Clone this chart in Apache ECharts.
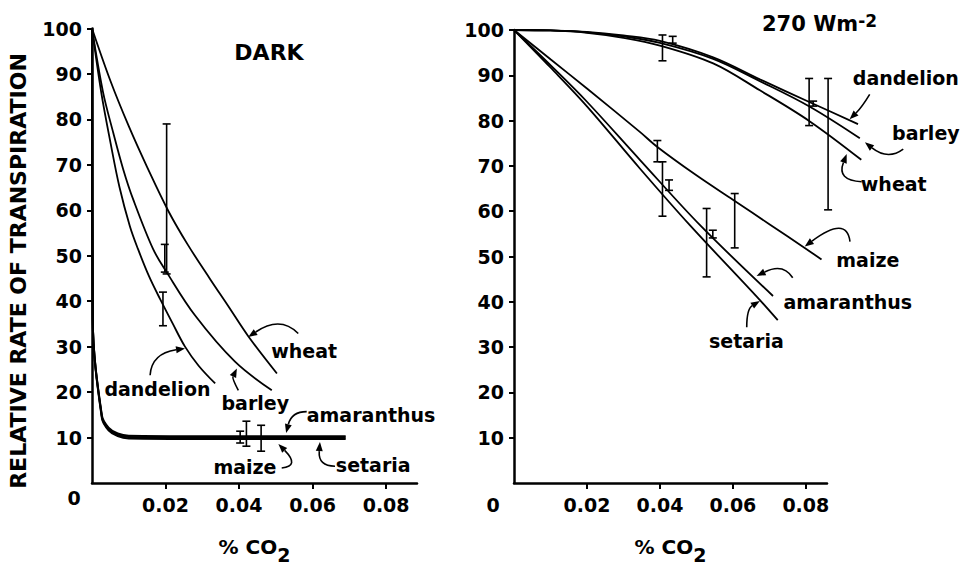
<!DOCTYPE html>
<html><head><meta charset="utf-8">
<script src="https://cdn.jsdelivr.net/npm/echarts@6/dist/echarts.min.js"></script>
<style>html,body{margin:0;padding:0;background:#fff}#c{width:969px;height:569px}</style>
</head><body><div id="c"></div>
<script>
// ---------- data (x = % CO2, y = relative rate of transpiration) ----------
const xTickValues = [0.02, 0.04, 0.06, 0.08];
const yTickValues = [10, 20, 30, 40, 50, 60, 70, 80, 90, 100];

// DARK panel
const darkDandelion = [[0,100],[0.0025,86],[0.005,75],[0.0075,65],[0.0103,56.5],[0.0125,51.5],[0.0155,45.5],[0.0185,40.5],[0.022,35],[0.0253,30],[0.029,25.8],[0.0335,21.9]];
const darkBarley    = [[0,100],[0.003,86],[0.0058,77],[0.0085,69],[0.0112,62.4],[0.0166,51.5],[0.0203,46.4],[0.028,36.9],[0.0389,26.7],[0.0489,20.4]];
const darkWheat     = [[0,100],[0.005,88.5],[0.01,78.5],[0.015,69.5],[0.0208,59.8],[0.026,52.5],[0.0321,44.9],[0.037,39],[0.0425,32.3],[0.0503,24.1]];
const darkAmaranthus= [[0,100],[0.0002,36],[0.0027,14.8],[0.0045,12.2],[0.007,10.9],[0.01,10.4],[0.03,10.3],[0.069,10.3]];
const darkMaize     = [[0,100],[0.0002,36],[0.0027,14.5],[0.0045,11.9],[0.007,10.6],[0.01,10.1],[0.03,10],[0.069,10]];
const darkSetaria   = [[0,100],[0.0002,36],[0.0027,14.2],[0.0045,11.6],[0.007,10.3],[0.01,9.8],[0.03,9.7],[0.069,9.7]];
const darkErrors    = [[0.0203,46,79],[0.0198,46.4,52.5],[0.0193,34.6,42],[0.0403,8.8,11.4],[0.042,8.1,13.6],[0.046,7,12.7]];

// 270 W m-2 panel
const lightDandelion = [[0,100],[0.01,99.9],[0.02,99.6],[0.03,98.8],[0.04,97.6],[0.0546,94],[0.0674,89.2],[0.0811,84.2],[0.0943,79.4]];
const lightBarley    = [[0,100],[0.01,99.9],[0.02,99.5],[0.03,98.6],[0.04,97.2],[0.0546,93.7],[0.0674,88.8],[0.0811,83.2],[0.0948,76.3]];
const lightWheat     = [[0,100],[0.01,99.9],[0.02,99.4],[0.03,98.3],[0.04,96.6],[0.0546,92.7],[0.0674,86.8],[0.0811,80],[0.0952,71.6]];
const lightMaize     = [[0,100],[0.01,93.6],[0.02,87.2],[0.0345,77.7],[0.0393,74.4],[0.05,68.2],[0.0601,62.8],[0.07,57.5],[0.0797,52.3],[0.0843,49.8]];
const lightAmaranthus= [[0,100],[0.01,92.3],[0.02,84.3],[0.0345,71.6],[0.051,57.3],[0.071,41.8]];
const lightSetaria   = [[0,100],[0.01,91.8],[0.02,83.3],[0.0345,69.7],[0.0482,57.3],[0.0666,41.6],[0.0723,36.5]];
const lightErrors    = [[0.0407,93.2,98.9],[0.0435,97.1,98.6],[0.0809,78.9,89.3],[0.082,83.2,84.3],[0.0861,60.3,89.3],
                        [0.0393,70.9,75.6],[0.0407,58.9,70.9],[0.0425,64.6,66.9],[0.0528,45.5,60.6],[0.0545,54.1,55.8],[0.0605,51.9,63.9]];

// ---------- annotations (label + curved arrow, in data units) ----------
const darkNotes = [
  {name:'wheat',      at:[0.0577,29.1], from:[0.0561,32.9], via:[0.0512,36.9], to:[0.0425,32.1]},
  {name:'barley',     at:[0.0444,17.5], from:[0.0398,20.4], via:[0.0381,23.0], to:[0.0394,25.2]},
  {name:'dandelion',  at:[0.0178,20.6], from:[0.0158,23.7], via:[0.0162,28.5], to:[0.0253,29.6]},
  {name:'amaranthus', at:[0.0759,15.0], from:[0.0584,15.7], via:[0.0543,15.7], to:[0.0528,11.0]},
  {name:'maize',      at:[0.0416,3.6],  from:[0.0516,3.3],  via:[0.0566,3.7],  to:[0.0507,8.6]},
  {name:'setaria',    at:[0.0765,4.05], from:[0.0661,3.7],  via:[0.0615,3.7],  to:[0.062,9.0]}
];
const lightNotes = [
  {name:'dandelion',  at:[0.1074,89.3], from:[0.0975,85.8], via:[0.0953,82.9], to:[0.092,80.3]},
  {name:'barley',     at:[0.1129,77.2], from:[0.1067,73.7], via:[0.1025,71.2], to:[0.0962,75.2]},
  {name:'wheat',      at:[0.1041,66.1], from:[0.0953,66.5], via:[0.0884,66.8], to:[0.0912,72.6]},
  {name:'maize',      at:[0.0970,49.2], from:[0.0921,53.3], via:[0.0912,59.1], to:[0.0797,52.2]},
  {name:'amaranthus', at:[0.0915,40.0], from:[0.0764,45.3], via:[0.0738,48.6], to:[0.0665,45.7]},
  {name:'setaria',    at:[0.0637,31.4], from:[0.0638,34.4], via:[0.0638,38.4], to:[0.0674,40.2]}
];

// ---------- chart ----------
const FONT = '"DejaVu Sans"';
const chart = echarts.init(document.getElementById('c'), null, {renderer:'svg', width:969, height:569});

const RIGHT_AXIS_MAX = 0.0858;   // drawn x axis of right panel
const RIGHT_PLOT_MAX = 0.1;      // same scale, wider, for curves that run past the axis end
const RIGHT_W = 313;

function xAxisCfg(gi, max) {
  return {
    gridIndex: gi, type:'value', min:0, max:max,
    axisLine:{show:true, onZero:false, lineStyle:{color:'#000', width:2.5}},
    axisTick:{show:true, length:6, lineStyle:{color:'#000', width:2}, customValues:xTickValues},
    axisLabel:{customValues:xTickValues, formatter:v => v.toFixed(2), margin:12, color:'#000',
               fontFamily:'DejaVu Sans', fontWeight:'bold', fontSize:19},
    splitLine:{show:false},
    name:'% CO{sub|2}', nameLocation:'middle', nameGap:54,
    nameTextStyle:{color:'#000', fontFamily:'DejaVu Sans', fontWeight:'bold', fontSize:20, lineHeight:20,
      verticalAlign:'top',
      rich:{sub:{fontFamily:'DejaVu Sans', fontWeight:'bold', fontSize:19, lineHeight:20, padding:[8,0,0,0], verticalAlign:'top'}}}
  };
}
function yAxisCfg(gi) {
  return {
    gridIndex: gi, type:'value', min:0, max:100, interval:10,
    axisLine:{show:true, onZero:false, lineStyle:{color:'#000', width:2.5}},
    axisTick:{show:true, length:5, lineStyle:{color:'#000', width:2}, customValues:yTickValues},
    axisLabel:{customValues:yTickValues, margin:10, color:'#000',
               fontFamily:'DejaVu Sans', fontWeight:'bold', fontSize:19},
    splitLine:{show:false}
  };
}
function curve(name, data, gi, w) {
  return {type:'line', name:name, xAxisIndex:gi, yAxisIndex:gi, data:data, smooth:0.35,
          showSymbol:false, symbol:'none', clip:false, silent:true, animation:false,
          lineStyle:{color:'#000', width:w || 1.8}, z:3};
}
function renderErr(params, api) {
  const x = api.value(0), lo = api.value(1), hi = api.value(2);
  const p1 = api.coord([x, lo]), p2 = api.coord([x, hi]);
  const w = 4, st = {stroke:'#000', lineWidth:1.6};
  return {type:'group', children:[
    {type:'line', shape:{x1:p1[0], y1:p1[1], x2:p2[0], y2:p2[1]}, style:st},
    {type:'line', shape:{x1:p1[0]-w, y1:p1[1], x2:p1[0]+w, y2:p1[1]}, style:st},
    {type:'line', shape:{x1:p2[0]-w, y1:p2[1], x2:p2[0]+w, y2:p2[1]}, style:st}
  ]};
}
function errSeries(data, gi) {
  return {type:'custom', xAxisIndex:gi, yAxisIndex:gi, data:data, renderItem:renderErr,
          encode:{x:0, y:[1,2]}, clip:false, silent:true, animation:false, z:4};
}
function noteSeries(list, gi) {
  return {type:'custom', xAxisIndex:gi, yAxisIndex:gi, data:list.map(a => a.at), encode:{x:0, y:1},
    clip:false, silent:true, animation:false, z:5,
    renderItem:function(params, api) {
      const a = list[params.dataIndex];
      const t = api.coord(a.at), s = api.coord(a.from), c = api.coord(a.via), e = api.coord(a.to);
      const dx = e[0]-c[0], dy = e[1]-c[1], L = Math.hypot(dx, dy) || 1, ux = dx/L, uy = dy/L;
      const hl = 9, hw = 3.5, bx = e[0]-ux*hl, by = e[1]-uy*hl;
      return {type:'group', children:[
        {type:'text', x:t[0], y:t[1], style:{text:a.name, fill:'#000', font:'bold 19px ' + FONT, align:'center', verticalAlign:'middle'}},
        {type:'bezierCurve', shape:{x1:s[0], y1:s[1], x2:bx, y2:by, cpx1:c[0], cpy1:c[1]}, style:{stroke:'#000', lineWidth:1.6, fill:null}},
        {type:'polygon', shape:{points:[[e[0],e[1]],[bx-uy*hw, by+ux*hw],[bx+uy*hw, by-ux*hw]]}, style:{fill:'#000'}}
      ]};
    }
  };
}

const hiddenX = {gridIndex:2, type:'value', min:0, max:RIGHT_PLOT_MAX, show:false, splitLine:{show:false}};
const hiddenY = {gridIndex:2, type:'value', min:0, max:100, show:false, splitLine:{show:false}};

chart.setOption({
  animation:false,
  backgroundColor:'#fff',
  grid:[
    {left:92, top:28.5, width:325, height:456.5},
    {left:514, top:30, width:RIGHT_W, height:457},
    {left:514, top:30, width:RIGHT_W * RIGHT_PLOT_MAX / RIGHT_AXIS_MAX, height:457}
  ],
  xAxis:[xAxisCfg(0, 0.0884), xAxisCfg(1, RIGHT_AXIS_MAX), hiddenX],
  yAxis:[yAxisCfg(0), yAxisCfg(1), hiddenY],
  series:[
    curve('dandelion', darkDandelion, 0), curve('barley', darkBarley, 0), curve('wheat', darkWheat, 0),
    curve('amaranthus', darkAmaranthus, 0, 2), curve('maize', darkMaize, 0, 2), curve('setaria', darkSetaria, 0, 2),
    errSeries(darkErrors, 0), noteSeries(darkNotes, 0),
    curve('dandelion', lightDandelion, 2), curve('barley', lightBarley, 2), curve('wheat', lightWheat, 2),
    curve('maize', lightMaize, 2), curve('amaranthus', lightAmaranthus, 2), curve('setaria', lightSetaria, 2),
    errSeries(lightErrors, 1), noteSeries(lightNotes, 1)
  ],
  graphic:[
    {type:'text', x:18, y:271, rotation:Math.PI/2,
     style:{text:'RELATIVE RATE OF TRANSPIRATION', fill:'#000', font:'bold 22px ' + FONT, align:'center', verticalAlign:'middle'}},
    {type:'text', x:269, y:52.5, style:{text:'DARK', fill:'#000', font:'bold 22px ' + FONT, align:'center', verticalAlign:'middle'}},
    {type:'text', x:762, y:6.5, style:{text:'270 Wm{sup|-2}', fill:'#000', fontFamily:'DejaVu Sans', fontWeight:'bold',
      fontSize:21, lineHeight:22, padding:[6,0,0,0], align:'left', verticalAlign:'top',
      rich:{sup:{fontFamily:'DejaVu Sans', fontWeight:'bold', fontSize:17, lineHeight:18, verticalAlign:'top'}}}},
    {type:'text', x:74, y:497.5, style:{text:'0', fill:'#000', font:'bold 19px ' + FONT, align:'center', verticalAlign:'middle'}},
    {type:'text', x:493, y:505, style:{text:'0', fill:'#000', font:'bold 19px ' + FONT, align:'center', verticalAlign:'middle'}}
  ]
});
</script>
</body></html>
